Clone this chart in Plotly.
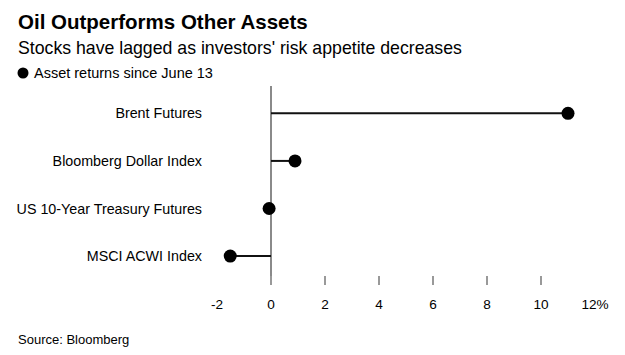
import plotly.graph_objects as go

categories = ["Brent Futures", "Bloomberg Dollar Index", "US 10-Year Treasury Futures", "MSCI ACWI Index"]
returns = [11.0, 0.89, -0.07, -1.51]
tick_vals = [-2, 0, 2, 4, 6, 8, 10, 12]
tick_text = ["-2", "0", "2", "4", "6", "8", "10", "12%"]

# page body has an 8px margin; figure is sized/positioned to compensate
OFF = 8
W, H = 625 - OFF, 355 - OFF
ML, MT = 217 - OFF, 86 - OFF
PLOT_R, PLOT_B = 595 - OFF, 285 - OFF
MR, MB = W - PLOT_R, H - PLOT_B
PW, PH = W - ML - MR, H - MT - MB
FONT = "Arial, Liberation Sans, sans-serif"

def px(x):
    return (x - OFF - ML) / PW

def py(y):
    return (H - MB - (y - OFF)) / PH

lx, ly = [], []
for c, v in zip(categories, returns):
    lx += [0, v, None]
    ly += [c, c, None]

fig = go.Figure()
fig.add_trace(go.Scatter(x=lx, y=ly, mode="lines", line=dict(color="#111111", width=2),
                         hoverinfo="skip", showlegend=False))
fig.add_trace(go.Scatter(x=returns, y=categories, mode="markers",
                         marker=dict(color="#000000", size=13),
                         name="Asset returns since June 13", showlegend=False, cliponaxis=False))

fig.update_layout(
    width=W, height=H,
    margin=dict(l=ML, r=MR, t=MT, b=MB, autoexpand=False),
    paper_bgcolor="white", plot_bgcolor="white",
    font=dict(family=FONT, color="#000000", size=13),
    xaxis=dict(range=[-2, 12], tickmode="array", tickvals=tick_vals, ticktext=tick_text,
               showgrid=False, showline=False, zeroline=True, zerolinecolor="#8a8a8a",
               zerolinewidth=1.5, ticks="inside", ticklen=9, tickwidth=1.5, tickcolor="#999999",
               ticklabelstandoff=9, tickfont=dict(size=13.6, color="#000000"), fixedrange=True),
    yaxis=dict(type="category", categoryorder="array", categoryarray=categories,
               range=[3.607, -0.574], showgrid=False, showline=False, zeroline=False,
               ticks="", ticklabelstandoff=14, tickfont=dict(size=14.3, color="#000000"),
               fixedrange=True),
    shapes=[dict(type="circle", xref="paper", yref="paper", xsizemode="pixel", ysizemode="pixel",
                 xanchor=px(23), yanchor=py(73), x0=-5.5, x1=5.5, y0=-5.5, y1=5.5,
                 fillcolor="#000000", line=dict(width=0))],
    annotations=[
        dict(text="<b>Oil Outperforms Other Assets</b>", xref="paper", yref="paper",
             x=px(16), y=py(22), xanchor="left", yanchor="middle", showarrow=False,
             font=dict(size=20.5, family=FONT)),
        dict(text="Stocks have lagged as investors' risk appetite decreases", xref="paper", yref="paper",
             x=px(16), y=py(48), xanchor="left", yanchor="middle", showarrow=False,
             font=dict(size=17.7, family=FONT)),
        dict(text="Asset returns since June 13", xref="paper", yref="paper",
             x=px(32), y=py(73), xanchor="left", yanchor="middle", showarrow=False,
             font=dict(size=14.5, family=FONT)),
        dict(text="Source: Bloomberg", xref="paper", yref="paper",
             x=px(16), y=py(339), xanchor="left", yanchor="middle", showarrow=False,
             font=dict(size=13, family=FONT)),
    ],
)

fig.write_html("out.html")
